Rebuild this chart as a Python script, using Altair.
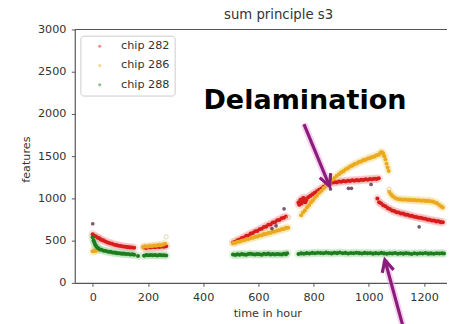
import altair as alt
import pandas as pd

chips = ["chip 282", "chip 286", "chip 288"]
chip_colors = ["#d81c1c", "#eaa91f", "#1d7d1d"]
glow_colors = ["#f29a9a", "#f6d98a", "#9fd69f"]

# ---- chip 282 (red) ----
red_x = [0, 6, 12, 18, 24, 30, 38, 46, 54, 62, 70, 78, 86, 94, 102, 110, 118, 126, 134, 142, 150,
         186, 194, 202, 210, 218, 226, 234, 242, 250, 258, 266,
         508, 516, 524, 532, 540, 548, 556, 564, 572, 580, 588, 596, 604, 612, 620, 628, 636, 644, 652, 660,
         668, 676, 684, 692, 700,
         745, 748, 752, 756, 759, 762, 766, 770, 773, 780, 788, 796, 804, 812, 820, 828, 836, 844, 852, 860,
         868, 876, 884, 892, 900, 908, 916, 924, 932, 940, 948, 956, 964, 972, 980, 988, 996, 1004, 1012,
         1020, 1028, 1036,
         1031, 1037, 1044, 1052, 1060, 1068, 1076, 1084, 1092, 1100, 1108, 1116, 1124, 1132, 1140, 1148,
         1156, 1164, 1172, 1180, 1188, 1196, 1204, 1212, 1220, 1228, 1236, 1244, 1252, 1260, 1268]
red_y = [575, 556, 548, 534, 527, 512, 503, 490, 478, 470, 462, 452, 447, 440, 436, 430, 428, 423, 420, 418, 416,
         418, 414, 421, 419, 424, 421, 427, 425, 431, 429, 434,
         478, 486, 505, 513, 531, 538, 558, 562, 583, 590, 611, 615, 636, 641, 662, 666, 688, 691, 714, 718,
         741, 744, 766, 770, 785,
         950, 925, 985, 940, 962, 1005, 1000, 955, 978, 1012, 1030, 1048, 1068, 1085, 1102, 1118, 1138, 1155,
         1168, 1180, 1187, 1192, 1190, 1201, 1197, 1205, 1200, 1210, 1206, 1214, 1209, 1217, 1213, 1221, 1218,
         1226, 1222, 1229, 1226, 1233, 1230, 1238,
         1000, 955, 942, 918, 907, 885, 874, 857, 850, 836, 834, 821, 820, 808, 806, 795, 793, 782, 781, 772,
         771, 761, 759, 749, 748, 739, 739, 728, 729, 719, 718]
red_out_x = [0, 649, 664, 693, 861, 926, 937, 1008, 1182]
red_out_y = [700, 643, 675, 877, 1111, 1119, 1119, 1166, 663]

# ---- chip 286 (yellow / orange) ----
orange_x = [0, 5, 10, 16,
            182, 190, 198, 206, 214, 222, 230, 238, 246, 254, 262,
            508, 516, 524, 532, 540, 548, 556, 564, 572, 580, 588, 596, 604, 612, 620, 628, 636, 644, 652, 660,
            668, 676, 684, 692, 700, 708,
            755, 762, 769, 776, 783, 790, 797, 804, 812, 820, 828, 836, 844, 852, 860, 868, 876, 884, 892, 900,
            908, 916, 924, 932, 940, 948, 956, 964, 972, 980, 988, 996, 1004, 1012, 1020, 1028, 1036, 1042, 1047,
            1052, 1056, 1060, 1064, 1068, 1072,
            1074, 1080, 1087, 1094, 1102, 1110, 1118, 1126, 1134, 1142, 1150, 1158, 1166, 1174, 1182, 1190, 1198,
            1206, 1214, 1222, 1230, 1238, 1246, 1254, 1262, 1268]
orange_y = [375, 383, 378, 390,
            425, 432, 428, 436, 434, 441, 439, 447, 446, 452, 462,
            471, 475, 488, 490, 502, 505, 517, 520, 532, 535, 547, 549, 562, 564, 577, 579, 591, 593, 606, 608,
            621, 623, 636, 638, 651, 653,
            800, 835, 860, 896, 920, 953, 976, 1008, 1033, 1068, 1090, 1123, 1146, 1175, 1196, 1225, 1243, 1269,
            1286, 1309, 1323, 1346, 1358, 1378, 1388, 1406, 1414, 1431, 1438, 1453, 1458, 1473, 1477, 1491, 1495,
            1510, 1518, 1541, 1548, 1530, 1500, 1460, 1410, 1365, 1325,
            1080, 1048, 1025, 1008, 996, 991, 988, 984, 986, 981, 983, 978, 980, 976, 978, 973, 975, 970, 971,
            966, 962, 955, 944, 925, 905, 893]
orange_out_x = [266, 710, 1073]
orange_out_y = [546, 775, 1110]

# ---- chip 288 (green) ----
green_x = [0, 3, 6, 9, 12, 16, 20, 26, 32, 40, 48, 56, 64, 72, 80, 88, 96, 104, 112, 120, 128, 136, 144, 150,
           164,
           186, 194, 202, 210, 218, 226, 234, 242, 250, 258, 266,
           508, 516, 524, 532, 540, 548, 556, 564, 572, 580, 588, 596, 604, 612, 620, 628, 636, 644, 652, 660,
           668, 676, 684, 692, 700, 704,
           745, 755, 765, 775, 785, 795, 805, 815, 825, 835, 845, 855, 865, 875, 885, 895, 905, 915, 925, 935,
           945, 955, 965, 975, 985, 995, 1005, 1015, 1025, 1035, 1045, 1055, 1065, 1075, 1085, 1095, 1105,
           1115, 1125, 1135, 1145, 1155, 1165, 1175, 1185, 1195, 1205, 1215, 1225, 1235, 1245, 1255, 1265, 1272]
green_y = [540, 502, 478, 450, 437, 418, 410, 396, 392, 381, 378, 369, 367, 360, 358, 352, 351, 346, 346, 341,
           341, 337, 338, 334,
           318,
           320, 329, 326, 331, 327, 330, 325, 329, 326, 328, 324,
           336, 331, 340, 334, 343, 337, 332, 341, 345, 338, 335, 342, 339, 333, 344, 340, 346, 337, 341, 335,
           343, 339, 336, 344, 338, 351,
           342, 349, 345, 352, 348, 355, 351, 357, 353, 350, 358, 354, 349, 356, 352, 359, 351, 355, 348, 354,
           350, 357, 352, 347, 355, 350, 353, 346, 352, 348, 355, 349, 345, 351, 347, 353, 344, 350, 346, 352,
           348, 343, 350, 345, 351, 347, 353, 346, 349, 344, 351, 347, 350, 348]

# ---- annotations (data units) ----
arrow_x = [765, 1130]
arrow_y = [1880, -593]
arrow_x2 = [858, 1058]
arrow_y2 = [1143, 271]
arrow_angle = [338, 165]
label_text = ["Delamination"]
label_x = [401]
label_y = [2055]

x_ticks = [0, 200, 400, 600, 800, 1000, 1200]
y_ticks = [0, 500, 1000, 1500, 2000, 2500, 3000]

rows = []
for name, xs, ys in [(chips[0], red_x, red_y), (chips[1], orange_x, orange_y), (chips[2], green_x, green_y)]:
    rows += [{"chip": name, "t": a, "f": b} for a, b in zip(xs, ys)]
df = pd.DataFrame(rows)
dark = pd.DataFrame({"t": red_out_x, "f": red_out_y})
pale = pd.DataFrame({"t": orange_out_x, "f": orange_out_y})
arrows = pd.DataFrame({"x": arrow_x, "y": arrow_y, "x2": arrow_x2, "y2": arrow_y2, "ang": arrow_angle})
label = pd.DataFrame({"text": label_text, "x": label_x, "y": label_y})

W, H = 379, 258
xs = alt.Scale(domain=[-65, 1283], nice=False, zero=False)
ys = alt.Scale(domain=[0, 3000], nice=False)

X = alt.X("t:Q", scale=xs, axis=alt.Axis(values=x_ticks, format="d", title="time in hour", titleX=196,
                                          titleY=34, titleBaseline="alphabetic", labelPadding=5))
Y = alt.Y("f:Q", scale=ys, axis=alt.Axis(values=y_ticks, format="d", title="features", titleX=-46, titleY=132,
                                          titleBaseline="alphabetic", labelPadding=5.5))

glow = alt.Chart(df).mark_circle(size=75, opacity=0.3).encode(
    x=X, y=Y,
    color=alt.Color("chip:N", scale=alt.Scale(domain=chips, range=glow_colors), legend=None),
)
core = alt.Chart(df).mark_circle(size=17, opacity=1).encode(
    x=X, y=Y,
    color=alt.Color("chip:N", scale=alt.Scale(domain=chips, range=chip_colors),
                    legend=alt.Legend(title=None, orient="none", legendX=5.7, legendY=6.3, padding=5,
                                      symbolOffset=9, labelOffset=16, rowPadding=6.6,
                                      labelFont="DejaVu Sans", labelFontSize=11.4, labelColor="#333",
                                      symbolSize=10, symbolType="circle", symbolOpacity=0.5,
                                      strokeColor="#cccccc", fillColor="white", cornerRadius=3)),
)
dark_pts = alt.Chart(dark).mark_circle(size=14, color="#6b4660", opacity=0.9).encode(x="t:Q", y="f:Q")
pale_pts = alt.Chart(pale).mark_point(size=18, color="#d9c48c", filled=False, strokeWidth=1).encode(x="t:Q", y="f:Q")

top_spine = alt.Chart(label).mark_rule(color="#555555", strokeWidth=1.2).encode(
    x=alt.value(0), x2=alt.value(W), y=alt.value(0))

arrow_glow = alt.Chart(arrows).mark_rule(color="#e9a3df", strokeWidth=7, opacity=0.5).encode(
    x=alt.X("x:Q", scale=xs), y=alt.Y("y:Q", scale=ys), x2="x2:Q", y2="y2:Q")
arrow_line = alt.Chart(arrows).mark_rule(color="#8b1c7c", strokeWidth=3.2).encode(
    x=alt.X("x:Q", scale=xs), y=alt.Y("y:Q", scale=ys), x2="x2:Q", y2="y2:Q")
arrow_head = alt.Chart(arrows).mark_point(shape="M-0.6,-1.2L0,0L0.6,-1.2", filled=False, size=400,
                                          strokeWidth=3.2, color="#8b1c7c", opacity=1).encode(
    x=alt.X("x2:Q", scale=xs), y=alt.Y("y2:Q", scale=ys), angle=alt.Angle("ang:Q", scale=None))

text = alt.Chart(label).mark_text(font="DejaVu Sans", fontWeight="bold", fontSize=27.5, align="left",
                                  baseline="alphabetic", color="black").encode(
    x=alt.X("x:Q", scale=xs), y=alt.Y("y:Q", scale=ys), text="text:N")

chart = alt.layer(glow, core, dark_pts, pale_pts, top_spine, arrow_glow, arrow_line, arrow_head, text).resolve_scale(
    color="independent"
).properties(
    width=W, height=H,
    title=alt.TitleParams("sum principle s3", font="DejaVu Sans", fontSize=13.5, fontWeight="normal",
                          color="#333", anchor="middle", dx=18, dy=15.5, offset=7, baseline="alphabetic"),
    autosize=alt.AutoSizeParams(type="none"),
    padding={"left": 68, "top": 19, "right": 0, "bottom": 39},
).configure_axis(
    labelFont="DejaVu Sans", labelFontSize=11.4, labelColor="#333",
    titleFont="DejaVu Sans", titleFontSize=11.4, titleFontWeight="normal", titleColor="#333",
    domainColor="#555555", domainWidth=1.2, tickColor="#555555", tickSize=3.5, grid=False,
).configure_view(stroke=None)

chart.save("out.html", embed_options={"renderer": "svg", "actions": False})
